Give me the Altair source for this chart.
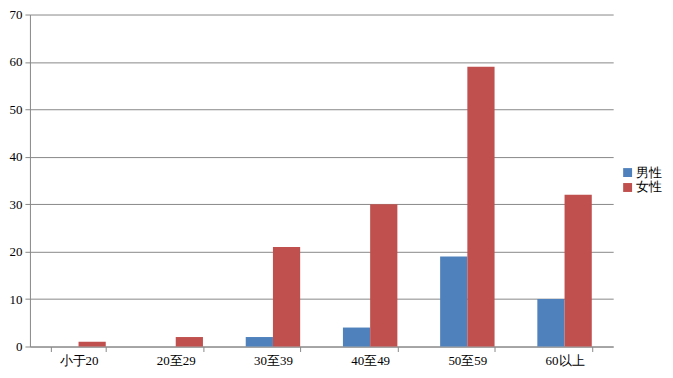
import altair as alt
import pandas as pd

categories = ["小于20", "20至29", "30至39", "40至49", "50至59", "60以上"]
male = [0, 0, 2, 4, 19, 10]
female = [1, 2, 21, 30, 59, 32]
series = ["男性", "女性"]

rows = []
for c, m, f in zip(categories, male, female):
    rows.append({"cat": c, "sex": series[0], "v": m})
    rows.append({"cat": c, "sex": series[1], "v": f})
df = pd.DataFrame(rows)

font = "Liberation Serif"

chart = alt.Chart(df).mark_bar().encode(
    x=alt.X("cat:N", sort=categories, title=None,
            scale=alt.Scale(paddingInner=0.44, paddingOuter=0.22),
            axis=alt.Axis(labelAngle=0, tickBand="extent", labelFontSize=13,
                          labelFont=font, labelColor="#000", domainColor="#888",
                          tickColor="#888", tickSize=5, labelPadding=3)),
    xOffset=alt.XOffset("sex:N", sort=series),
    y=alt.Y("v:Q", title=None,
            scale=alt.Scale(domain=[0, 70]),
            axis=alt.Axis(values=list(range(0, 71, 10)), labelFontSize=13,
                          labelFont=font, labelColor="#000", domainColor="#888",
                          tickColor="#888", tickSize=5, gridColor="#888",
                          labelPadding=3)),
    color=alt.Color("sex:N", sort=series,
                    scale=alt.Scale(domain=series, range=["#4F81BD", "#C0504D"]),
                    legend=alt.Legend(title=None, orient="none", legendX=593, legendY=152,
                                      symbolType="square", symbolSize=80,
                                      labelFontSize=13, labelFont=font,
                                      labelColor="#000", rowPadding=1,
                                      symbolStrokeWidth=0, labelOffset=2)),
).properties(
    width=585, height=333,
    autosize=alt.AutoSizeParams(type="none"),
    padding={"left": 22, "top": 6, "right": 52, "bottom": 21},
).configure_view(stroke=None).configure_axis(gridWidth=1)

chart.save("out.html", embed_options={"renderer": "svg", "actions": False})
